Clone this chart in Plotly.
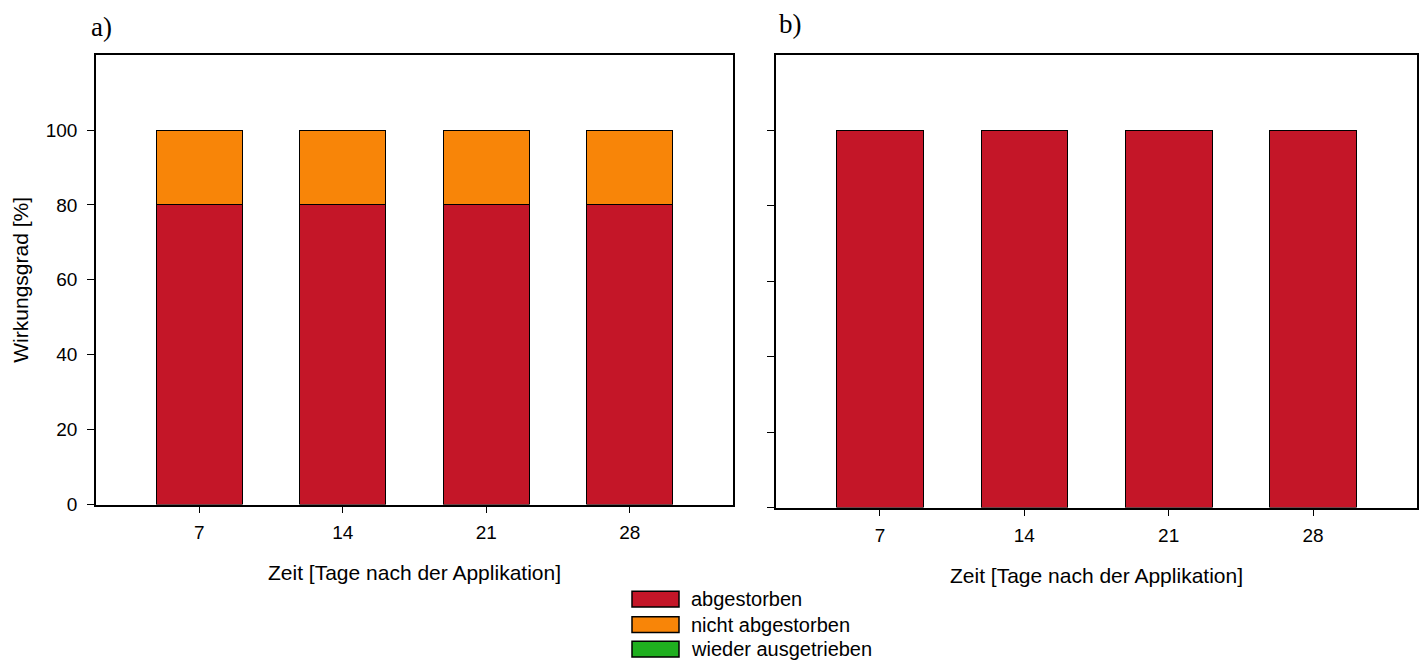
import plotly.graph_objects as go

# Days after application (x categories)
days = ["7", "14", "21", "28"]

# Series names and fill colours
series_names = ["abgestorben", "nicht abgestorben", "wieder ausgetrieben"]
series_colors = ["#C41628", "#F88508", "#1FAF1F"]

# Panel a) efficacy [%] per series
a_abgestorben = [80, 80, 80, 80]
a_nicht_abgestorben = [20, 20, 20, 20]
a_wieder_ausgetrieben = [0, 0, 0, 0]

# Panel b) efficacy [%] per series
b_abgestorben = [100, 100, 100, 100]
b_nicht_abgestorben = [0, 0, 0, 0]
b_wieder_ausgetrieben = [0, 0, 0, 0]

y_ticks = [0, 20, 40, 60, 80, 100]

W, H = 1423, 672
FONT = "Liberation Sans, Arial, sans-serif"
TICK_SIZE = 19
TITLE_SIZE = 21

fig = go.Figure()

panels = [
    ("x", "y", [a_abgestorben, a_nicht_abgestorben, a_wieder_ausgetrieben]),
    ("x2", "y2", [b_abgestorben, b_nicht_abgestorben, b_wieder_ausgetrieben]),
]
for xa, ya, values in panels:
    for name, color, vals in zip(series_names, series_colors, values):
        fig.add_trace(go.Bar(
            x=days, y=vals, name=name, xaxis=xa, yaxis=ya,
            marker=dict(color=color, line=dict(color="black", width=1)),
            width=0.6, showlegend=False,
        ))

def px_x(p):
    return p / W

def px_y(p):
    return 1 - p / H

axis_common = dict(
    showline=True, linecolor="black", linewidth=1.5, mirror=True,
    showgrid=False, zeroline=False, ticks="outside", ticklen=7,
    tickcolor="black", tickwidth=1,
    tickfont=dict(family=FONT, size=TICK_SIZE, color="black"),
)

x_title = dict(text="Zeit [Tage nach der Applikation]",
               font=dict(family=FONT, size=TITLE_SIZE, color="black"),
               standoff=23)

fig.update_layout(
    width=W, height=H,
    margin=dict(l=0, r=0, t=0, b=0),
    paper_bgcolor="white", plot_bgcolor="white",
    barmode="stack", bargap=0.4,
    showlegend=False,
    xaxis=dict(domain=[px_x(96), px_x(733)], anchor="y", type="category",
               range=[-0.72, 3.72], title=x_title, ticklabelstandoff=3,
               **axis_common),
    yaxis=dict(domain=[px_y(513), px_y(56)], anchor="x", range=[0, 120],
               tickvals=y_ticks, ticklabelstandoff=6,
               title=dict(text="Wirkungsgrad [%]",
                          font=dict(family=FONT, size=TITLE_SIZE, color="black"),
                          standoff=11),
               **axis_common),
    xaxis2=dict(domain=[px_x(776), px_x(1417)], anchor="y2", type="category",
                range=[-0.72, 3.72], title=x_title, ticklabelstandoff=3,
                **axis_common),
    yaxis2=dict(domain=[px_y(516), px_y(56)], anchor="x2", range=[0, 120],
                tickvals=y_ticks, showticklabels=False,
                **axis_common),
)

# Panel letters
for label, xp, yp in [("a)", 89, 27), ("b)", 777, 24)]:
    fig.add_annotation(
        text=label, xref="paper", yref="paper",
        x=px_x(xp), y=px_y(yp), xanchor="left", yanchor="middle",
        showarrow=False,
        font=dict(family="Liberation Serif, Times New Roman, serif", size=27, color="black"),
    )

# Shared legend below the panels
box_x0, box_x1 = 632, 679
row_centers = [609, 635, 660]
for name, color, yc in zip(series_names, series_colors, row_centers):
    fig.add_shape(
        type="rect", xref="paper", yref="paper",
        x0=px_x(box_x0), x1=px_x(box_x1), y0=px_y(yc + 8), y1=px_y(yc - 8),
        fillcolor=color, line=dict(color="black", width=1.5),
    )
    fig.add_annotation(
        text=name, xref="paper", yref="paper",
        x=px_x(689), y=px_y(yc), xanchor="left", yanchor="middle",
        showarrow=False,
        font=dict(family=FONT, size=20, color="black"),
    )

fig.write_html("out.html")
